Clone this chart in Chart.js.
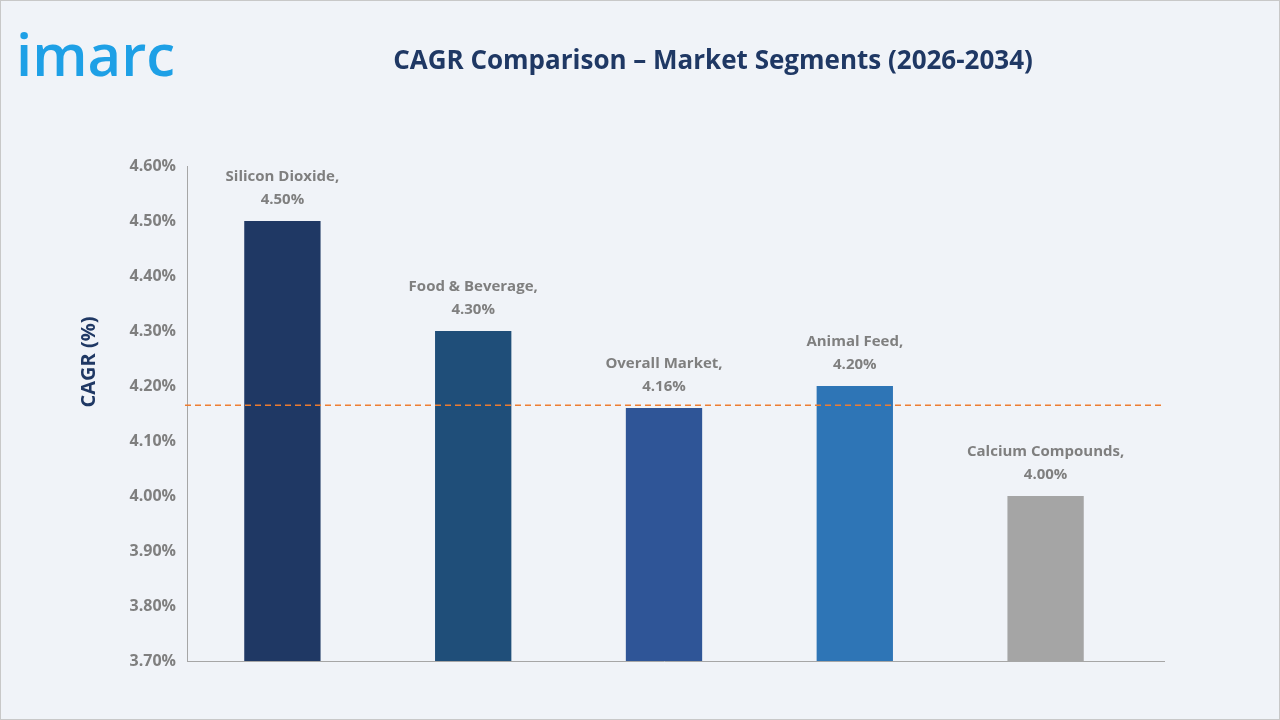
<!DOCTYPE html>
<html>
<head>
<meta charset="utf-8">
<script src="https://cdn.jsdelivr.net/npm/chart.js@4"></script>
<style>
  html, body { margin: 0; padding: 0; background: #f0f3f8; }
  #wrap { width: 1280px; height: 720px; position: relative; }
</style>
</head>
<body>
<div id="wrap"><canvas id="chart" width="1280" height="720"></canvas></div>
<script>
//Data
const categories = ['Silicon Dioxide', 'Food & Beverage', 'Overall Market', 'Animal Feed', 'Calcium Compounds'];
const cagrValues = [4.50, 4.30, 4.16, 4.20, 4.00];
const barColors = ['#1f3864', '#1f4e79', '#2f5597', '#2e75b6', '#a5a5a5'];
const overallLine = 4.165;

const decorPlugin = {
    id: 'decor',
    beforeDraw(c) {
        const ctx = c.ctx;
        ctx.save();
        ctx.fillStyle = '#f0f3f8';
        ctx.fillRect(0, 0, 1280, 720);
        ctx.strokeStyle = '#c8c8c8';
        ctx.lineWidth = 1;
        ctx.strokeRect(0.5, 0.5, 1279, 719);
        ctx.restore();
    },
    afterDatasetsDraw(c) {
        const ctx = c.ctx;
        const x = c.scales.x, y = c.scales.y;
        const axisEnd = 1165;
        ctx.save();
        // bottom axis extends past the last category
        ctx.strokeStyle = '#a6a6a6';
        ctx.lineWidth = 1;
        ctx.beginPath();
        ctx.moveTo(x.right, Math.round(y.bottom) + 0.5);
        ctx.lineTo(axisEnd, Math.round(y.bottom) + 0.5);
        ctx.stroke();

        // dashed overall line
        ctx.strokeStyle = '#ed7d31';
        ctx.lineWidth = 1.5;
        ctx.setLineDash([6, 4]);
        const ly = y.getPixelForValue(overallLine);
        ctx.beginPath();
        ctx.moveTo(185, ly);
        ctx.lineTo(axisEnd, ly);
        ctx.stroke();
        ctx.setLineDash([]);

        // bar labels
        const meta = c.getDatasetMeta(0);
        ctx.fillStyle = '#7f7f7f';
        ctx.font = 'bold 15px "Open Sans", sans-serif';
        ctx.textAlign = 'center';
        meta.data.forEach((bar, i) => {
            ctx.fillText(categories[i] + ',', bar.x, bar.y - 40);
            ctx.fillText(cagrValues[i].toFixed(2) + '%', bar.x, bar.y - 17);
        });

        // title
        ctx.fillStyle = '#1f3864';
        ctx.font = 'bold 26px "Open Sans", sans-serif';
        ctx.fillText('CAGR Comparison \u2013 Market Segments (2026-2034)', 713, 69);

        // logo
        ctx.fillStyle = '#1ea0e6';
        ctx.font = '600 58px "Open Sans", sans-serif';
        ctx.textAlign = 'left';
        ctx.fillText('imarc', 16, 76);

        // y title
        ctx.translate(95, 362);
        ctx.rotate(-Math.PI / 2);
        ctx.textAlign = 'center';
        ctx.fillStyle = '#1f3864';
        ctx.font = 'bold 20px "Open Sans", sans-serif';
        ctx.fillText('CAGR (%)', 0, 0);
        ctx.restore();
    }
};

new Chart(document.getElementById('chart'), {
    type: 'bar',
    data: {
        labels: categories,
        datasets: [{
            data: cagrValues,
            backgroundColor: barColors,
            categoryPercentage: 1,
            barPercentage: 0.4
        }]
    },
    options: {
        responsive: false,
        animation: false,
        layout: { padding: { left: 89, right: 139, top: 166, bottom: 59 } },
        plugins: { legend: { display: false }, tooltip: { enabled: false } },
        scales: {
            x: {
                ticks: { display: false },
                grid: { display: false },
                border: { color: '#a6a6a6' },
                afterFit: s => { s.height = 0; }
            },
            y: {
                min: 3.7,
                max: 4.6,
                afterFit: s => { s.width = 98; },
                ticks: {
                    stepSize: 0.1,
                    color: '#7f7f7f',
                    font: { family: '"Open Sans", sans-serif', size: 16, weight: 'bold' },
                    callback: v => v.toFixed(2) + '%'
                },
                grid: { display: false, drawTicks: true },
                border: { color: '#a6a6a6' }
            }
        }
    },
    plugins: [decorPlugin]
});
</script>
</body>
</html>
